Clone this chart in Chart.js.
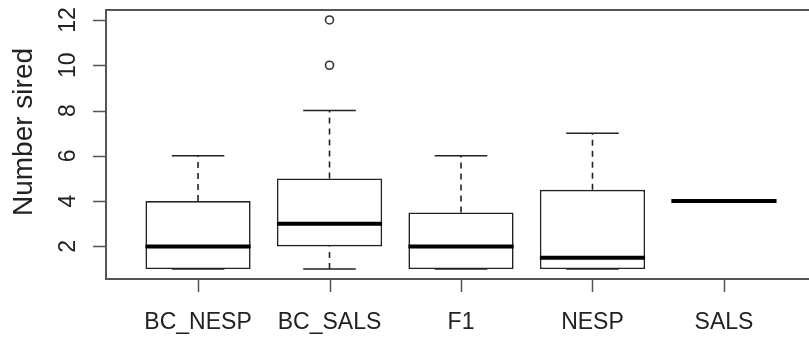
<!DOCTYPE html>
<html>
<head>
<meta charset="utf-8">
<script src="https://cdn.jsdelivr.net/npm/chart.js@4/dist/chart.umd.min.js"></script>
<style>
  html, body { margin: 0; padding: 0; background: #fff; overflow: hidden; }
  #wrap { width: 830px; height: 339px; }
</style>
</head>
<body>
<div id="wrap"><canvas id="box" width="830" height="339"></canvas></div>
<script>
// five-number summaries per group
const groups = ['BC_NESP', 'BC_SALS', 'F1', 'NESP', 'SALS'];
const lowerWhisker = [1, 1, 1, 1, 4];
const q1 = [1, 2, 1, 1, 4];
const medians = [2, 3, 2, 1.5, 4];
const q3 = [4, 5, 3.5, 4.5, 4];
const upperWhisker = [6, 8, 6, 7, 4];
const outliers = [[], [10, 12], [], [], []];
const yTicks = [2, 4, 6, 8, 10, 12];
const yTitle = 'Number sired';

const BOX_HALF = 0.4;
const CAP_HALF = 0.2;
const ink = '#222';
const frame = '#555';

// helpers to turn the summaries into broken line series
function segments(pairs) {
    const out = [];
    pairs.forEach(p => {
        out.push({ x: p[0], y: p[1] }, { x: p[2], y: p[3] }, { x: p[2], y: null });
    });
    return out;
}

const pos = groups.map((_, i) => i + 1);
const boxData = pos.map((x, i) => ({ x, y: [q1[i], q3[i]] }));
const medianData = segments(pos.map((x, i) => [x - BOX_HALF, medians[i], x + BOX_HALF, medians[i]]));
const whiskerData = segments(pos.flatMap((x, i) => [
    [x, q3[i], x, upperWhisker[i]],
    [x, lowerWhisker[i], x, q1[i]]
]));
const capData = segments(pos.flatMap((x, i) => [
    [x - CAP_HALF, upperWhisker[i], x + CAP_HALF, upperWhisker[i]],
    [x - CAP_HALF, lowerWhisker[i], x + CAP_HALF, lowerWhisker[i]]
]));
const outlierData = pos.flatMap((x, i) => outliers[i].map(v => ({ x, y: v })));

// axes, frame and labels in base R style
const rAxes = {
    id: 'rAxes',
    afterDatasetsDraw(chart) {
        const { ctx, chartArea: a, scales: { x, y } } = chart;
        ctx.save();
        ctx.strokeStyle = frame;
        ctx.lineWidth = 2;
        ctx.strokeRect(a.left, a.top, a.right - a.left, a.bottom - a.top);

        ctx.lineWidth = 1.5;
        ctx.beginPath();
        yTicks.forEach(v => {
            const py = Math.round(y.getPixelForValue(v)) + 0.5;
            ctx.moveTo(a.left - 13, py);
            ctx.lineTo(a.left, py);
        });
        pos.forEach(v => {
            const px = Math.round(x.getPixelForValue(v)) + 0.5;
            ctx.moveTo(px, a.bottom);
            ctx.lineTo(px, a.bottom + 13);
        });
        ctx.stroke();

        ctx.fillStyle = ink;
        ctx.font = '23px "Liberation Sans", Arial, sans-serif';
        ctx.textAlign = 'center';
        ctx.textBaseline = 'alphabetic';
        pos.forEach((v, i) => {
            ctx.fillText(groups[i], x.getPixelForValue(v), a.bottom + 50);
        });

        yTicks.forEach(v => {
            ctx.save();
            ctx.translate(75, y.getPixelForValue(v));
            ctx.rotate(-Math.PI / 2);
            ctx.fillText(String(v), 0, 0);
            ctx.restore();
        });

        ctx.font = '28px "Liberation Sans", Arial, sans-serif';
        ctx.save();
        ctx.translate(32, 132);
        ctx.rotate(-Math.PI / 2);
        ctx.fillText(yTitle, 0, 0);
        ctx.restore();
        ctx.restore();
    }
};

new Chart(document.getElementById('box'), {
    type: 'bar',
    data: {
        datasets: [
            {
                type: 'bar', data: boxData, order: 5,
                backgroundColor: '#fff', borderColor: ink, borderWidth: 1.6,
                borderSkipped: false, barPercentage: 0.8, categoryPercentage: 1
            },
            {
                type: 'line', data: whiskerData, order: 4,
                borderColor: ink, borderWidth: 1.6, borderDash: [6, 5],
                pointRadius: 0, spanGaps: false, tension: 0
            },
            {
                type: 'line', data: capData, order: 3,
                borderColor: ink, borderWidth: 1.6,
                pointRadius: 0, spanGaps: false, tension: 0
            },
            {
                type: 'line', data: medianData, order: 1,
                borderColor: '#000', borderWidth: 4,
                pointRadius: 0, spanGaps: false, tension: 0
            },
            {
                type: 'scatter', data: outlierData, order: 0,
                pointStyle: 'circle', pointRadius: 4, borderWidth: 1.6,
                borderColor: '#333', backgroundColor: '#fff'
            }
        ]
    },
    options: {
        responsive: false,
        animation: false,
        devicePixelRatio: 1,
        layout: { padding: { left: 106, top: 10, right: 14, bottom: 60 } },
        plugins: { legend: { display: false }, tooltip: { enabled: false } },
        scales: {
            x: {
                type: 'linear', min: 0.3, max: 5.7, offset: false, display: false,
                // one tick per group so the bar width follows the group spacing
                afterBuildTicks: axis => { axis.ticks = pos.map(v => ({ value: v })); }
            },
            y: { type: 'linear', min: 0.56, max: 12.44, display: false }
        }
    },
    plugins: [rAxes]
});
</script>
</body>
</html>
